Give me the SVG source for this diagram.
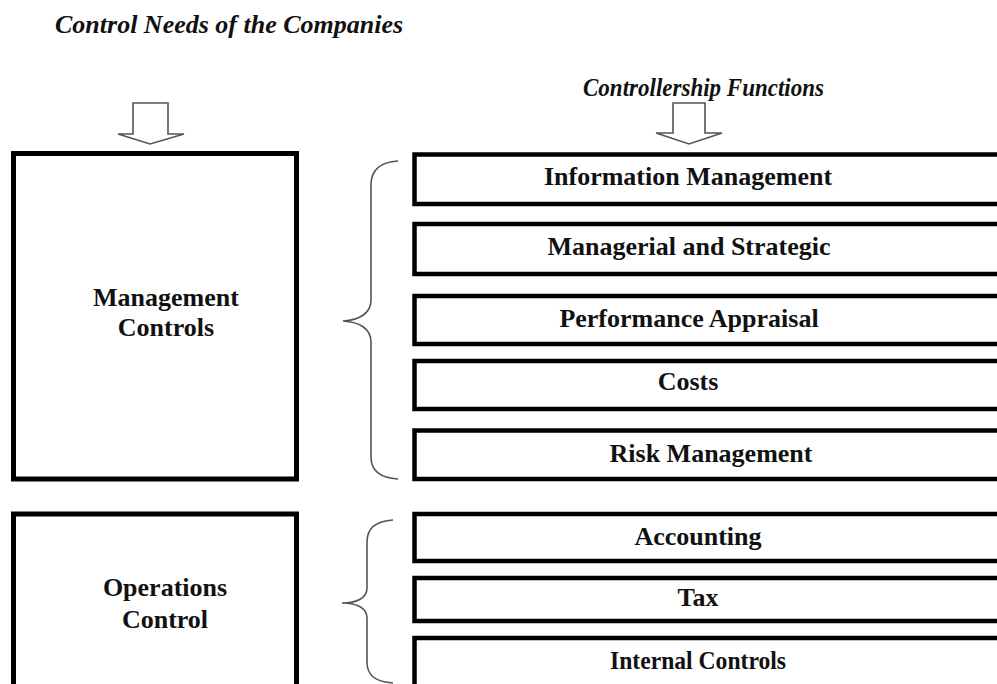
<svg xmlns="http://www.w3.org/2000/svg" width="997" height="684" viewBox="0 0 997 684">
<style>
.box{fill:#fff;stroke:#000;stroke-width:5}
.fbox{fill:#fff;stroke:#000;stroke-width:4.5}
.t{font-family:"Liberation Serif","Times New Roman",serif;font-weight:bold;font-size:26px;fill:#111;text-anchor:middle}
.h{font-family:"Liberation Serif","Times New Roman",serif;font-weight:bold;font-style:italic;font-size:26px;fill:#111}
.arrow{fill:#fff;stroke:#555;stroke-width:1.6;stroke-linejoin:miter}
.brace{fill:none;stroke:#555;stroke-width:1.6}
</style>
<rect width="997" height="684" fill="#fff"/>
<text class="h" x="55" y="33">Control Needs of the Companies</text>
<text class="h" x="583" y="96" textLength="241" lengthAdjust="spacingAndGlyphs">Controllership Functions</text>
<g id="connectors">
<path class="arrow" d="M133,103 H168 V134 H184 L150,144 L118,134 H133 Z"/>
<path class="arrow" d="M673,103 H705 V133 H722 L689,144 L656,133 H673 Z"/>
<path class="brace" d="M398,161 C380,162 371,170 371,185 V300 C371,313 360,320 343,321 C360,322 371,329 371,342 V457 C371,470 380,478 398,479"/>
<path class="brace" d="M393,520 C376,521 367,528 367,542 V588 C367,598 357,603 342,603 C357,603 367,608 367,618 V662 C367,676 376,682 393,683"/>
</g>
<g id="management-controls">
<rect class="box" x="13.5" y="153.5" width="283" height="325.5"/>
<text class="t" x="166" y="306">Management</text>
<text class="t" x="166" y="336">Controls</text>
</g>
<g id="operations-control">
<rect class="box" x="13.5" y="514" width="283" height="200"/>
<text class="t" x="165" y="596">Operations</text>
<text class="t" x="165" y="628">Control</text>
</g>
<g id="information-management">
<rect class="fbox" x="414.5" y="154.5" width="600" height="49.5"/>
<text class="t" x="688" y="185">Information Management</text>
</g>
<g id="managerial-strategic">
<rect class="fbox" x="414.5" y="224" width="600" height="50"/>
<text class="t" x="689" y="255">Managerial and Strategic</text>
</g>
<g id="performance-appraisal">
<rect class="fbox" x="414.5" y="296" width="600" height="48"/>
<text class="t" x="689" y="327">Performance Appraisal</text>
</g>
<g id="costs">
<rect class="fbox" x="414.5" y="361" width="600" height="48"/>
<text class="t" x="688" y="390">Costs</text>
</g>
<g id="risk-management">
<rect class="fbox" x="414.5" y="430.5" width="600" height="48.5"/>
<text class="t" x="711" y="462">Risk Management</text>
</g>
<g id="accounting">
<rect class="fbox" x="414.5" y="514" width="600" height="47"/>
<text class="t" x="698" y="545">Accounting</text>
</g>
<g id="tax">
<rect class="fbox" x="414.5" y="578" width="600" height="43"/>
<text class="t" x="698" y="606">Tax</text>
</g>
<g id="internal-controls">
<rect class="fbox" x="414.5" y="638" width="600" height="80"/>
<text class="t" x="698" y="669" textLength="176" lengthAdjust="spacingAndGlyphs">Internal Controls</text>
</g>
</svg>
